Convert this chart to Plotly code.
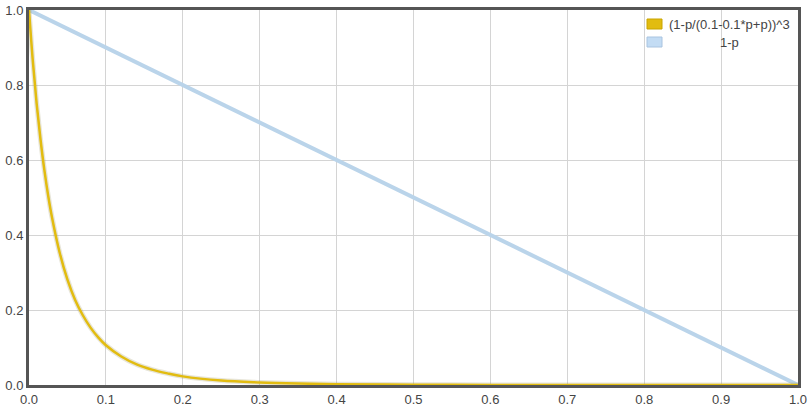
import plotly.graph_objects as go

p_yellow = [0.0, 0.005, 0.01, 0.015, 0.02, 0.025, 0.03, 0.04, 0.05, 0.06, 0.07, 0.08, 0.09, 0.10,
            0.12, 0.14, 0.16, 0.18, 0.20, 0.25, 0.30, 0.35, 0.40, 0.50, 0.60, 0.70, 0.80, 0.90, 1.0]
v_yellow = [1.0, 0.863, 0.749, 0.654, 0.573, 0.504, 0.446, 0.352, 0.281, 0.227, 0.186, 0.153, 0.127, 0.106,
            0.076, 0.055, 0.041, 0.031, 0.023, 0.012, 0.007, 0.004, 0.002, 0.001, 0.0, 0.0, 0.0, 0.0, 0.0]
p_blue = [0.0, 0.1, 0.2, 0.3, 0.4, 0.5, 0.6, 0.7, 0.8, 0.9, 1.0]
v_blue = [1.0, 0.9, 0.8, 0.7, 0.6, 0.5, 0.4, 0.3, 0.2, 0.1, 0.0]
series_names = ["(1-p/(0.1-0.1*p+p))^3", "1-p"]
x_ticks = [0.0, 0.1, 0.2, 0.3, 0.4, 0.5, 0.6, 0.7, 0.8, 0.9, 1.0]
y_ticks = [0.0, 0.2, 0.4, 0.6, 0.8, 1.0]

YELLOW = "#e2bc10"
BLUE = "#bad4ea"

fig = go.Figure()
fig.add_trace(go.Scatter(x=p_blue, y=v_blue, mode="lines", name=series_names[1],
                         line=dict(color=BLUE, width=4), showlegend=False))
fig.add_trace(go.Scatter(x=p_yellow, y=v_yellow, mode="lines", name=series_names[0],
                         line=dict(color="rgba(160,150,100,0.25)", width=5, shape="spline"),
                         showlegend=False, hoverinfo="skip"))
fig.add_trace(go.Scatter(x=p_yellow, y=v_yellow, mode="lines", name=series_names[0],
                         line=dict(color=YELLOW, width=2.5, shape="spline"), showlegend=False))

font = dict(family="Liberation Sans, Arial, sans-serif", size=13, color="#444444")

L, R, T, B = 29, 14, 10, 23
PW, PH = 812 - L - R, 408 - T - B

fig.update_layout(
    width=812, height=408,
    margin=dict(l=L, r=R, t=T, b=B, autoexpand=False),
    paper_bgcolor="white", plot_bgcolor="white",
    font=font,
    xaxis=dict(range=[0, 1], tickvals=x_ticks, ticktext=[f"{v:.1f}" for v in x_ticks],
               showgrid=True, gridcolor="#d4d4d4", gridwidth=1, zeroline=False,
               showline=True, linecolor="#555555", linewidth=3, mirror=True,
               ticks="", ticklen=0, automargin=False),
    yaxis=dict(range=[0, 1], tickvals=y_ticks, ticktext=[f"{v:.1f}" for v in y_ticks],
               showgrid=True, gridcolor="#d4d4d4", gridwidth=1, zeroline=False,
               showline=True, linecolor="#555555", linewidth=3, mirror=True,
               ticks="", ticklen=0, automargin=False),
)

def px(x):
    return (x - L) / PW

def py(y):
    return 1 - (y - T) / PH

# legend drawn manually (box swatches)
legend_rows = [(series_names[0], YELLOW, "#c9a400", 24), (series_names[1], "#c3dcf4", "#a9c4e0", 42)]
for name, fill, edge, yc in legend_rows:
    fig.add_shape(type="rect", xref="paper", yref="paper",
                  x0=px(647), x1=px(662), y0=py(yc - 5), y1=py(yc + 5),
                  fillcolor=fill, line=dict(color=edge, width=1), layer="above")
fig.add_annotation(xref="paper", yref="paper", x=px(667), y=py(24),
                   text=series_names[0], showarrow=False, xanchor="left", yanchor="middle",
                   font=font)
fig.add_annotation(xref="paper", yref="paper", x=px(729), y=py(42),
                   text=series_names[1], showarrow=False, xanchor="center", yanchor="middle",
                   font=font)

fig.write_html("out.html", config={"displayModeBar": False},
               post_script="document.body.style.margin='0';document.body.style.overflow='hidden';")
